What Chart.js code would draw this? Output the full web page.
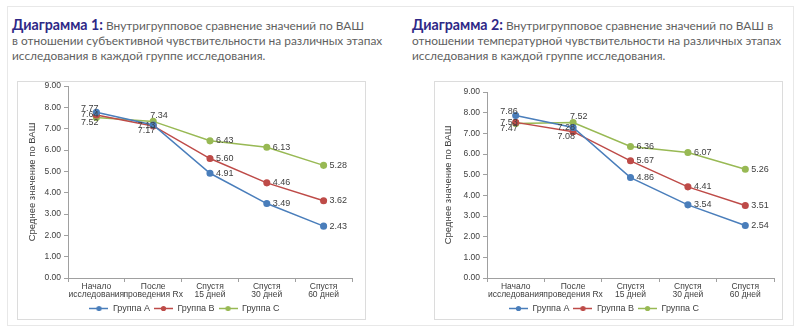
<!DOCTYPE html>
<html>
<head>
<meta charset="utf-8">
<script src="https://cdn.jsdelivr.net/npm/chart.js@4"></script>
<style>
  body { margin: 0; background: #fff; width: 800px; height: 332px; position: relative; overflow: hidden; }
  .frame { position: absolute; left: 7px; top: 6px; width: 785px; height: 318px; border: 1px solid #e8e8e8; }
  .title { position: absolute; top: 17px; font-family: Lato, "Open Sans", sans-serif; font-size: 11.9px; line-height: 15px; color: #5f5f5f; white-space: nowrap; }
  .title b { color: #2e2886; font-size: 14.2px; font-weight: 700; }
  .box { position: absolute; top: 81px; width: 347px; height: 237px; border: 1px solid #dcdcdc; }
  canvas { position: absolute; top: 81px; }
</style>
</head>
<body>
<div class="frame"></div>
<div class="title" style="left:12px">
  <b>Диаграмма 1:</b> Внутригрупповое сравнение значений по ВАШ<br>
  в отношении субъективной чувствительности на различных этапах<br>
  исследования в каждой группе исследования.
</div>
<div class="title" style="left:412px">
  <b>Диаграмма 2:</b> Внутригрупповое сравнение значений по ВАШ в<br>
  отношении температурной чувствительности на различных этапах<br>
  исследования в каждой группе исследования.
</div>
<div class="box" style="left:17px"></div>
<div class="box" style="left:434px"></div>
<canvas id="chart1" width="348" height="238" style="left:17px"></canvas>
<canvas id="chart2" width="349" height="238" style="left:434px"></canvas>

<script>
// data
const categories = [
  ["Начало", "исследования"],
  ["После", "проведения Rx"],
  ["Спустя", "15 дней"],
  ["Спустя", "30 дней"],
  ["Спустя", "60 дней"],
];
const seriesNames = ["Группа А", "Группа В", "Группа С"];
const yTicks = [0, 1, 2, 3, 4, 5, 6, 7, 8, 9];

const groupA1 = [7.77, 7.17, 4.91, 3.49, 2.43];
const groupB1 = [7.64, 7.13, 5.60, 4.46, 3.62];
const groupC1 = [7.52, 7.34, 6.43, 6.13, 5.28];

const groupA2 = [7.86, 7.28, 4.86, 3.54, 2.54];
const groupB2 = [7.53, 7.08, 5.67, 4.41, 3.51];
const groupC2 = [7.47, 7.52, 6.36, 6.07, 5.26];

// where each value label sits relative to its point
const labelPos1 = [
  ["la", "lb", "r", "r", "r"],
  ["l", "l", "r", "r", "r"],
  ["lb", "a", "r", "r", "r"],
];
const labelPos2 = [
  ["la", "l", "r", "r", "r"],
  ["l", "lb", "r", "r", "r"],
  ["lb", "a", "r", "r", "r"],
];

const colors = ["#4a7ebb", "#be4b48", "#98b954"];
const axisFont = { family: "'Liberation Sans', Arial, sans-serif", size: 9 };
const tickFont = { family: "'Liberation Sans', Arial, sans-serif", size: 8.5 };

// legend marker: line with a dot
const legendIcons = colors.map((c) => {
  const cv = document.createElement("canvas");
  cv.width = 19;
  cv.height = 7;
  const ctx = cv.getContext("2d");
  ctx.strokeStyle = c;
  ctx.lineWidth = 1.5;
  ctx.beginPath();
  ctx.moveTo(0, 3.5);
  ctx.lineTo(19, 3.5);
  ctx.stroke();
  ctx.fillStyle = c;
  ctx.beginPath();
  ctx.arc(9.5, 3.5, 2.6, 0, Math.PI * 2);
  ctx.fill();
  return cv;
});

const valueLabels = {
  id: "valueLabels",
  afterDatasetsDraw(chart, args, opts) {
    const ctx = chart.ctx;
    ctx.save();
    ctx.font = "9px 'Liberation Sans', Arial, sans-serif";
    ctx.fillStyle = "#404040";
    ctx.textBaseline = "middle";
    chart.data.datasets.forEach((ds, i) => {
      chart.getDatasetMeta(i).data.forEach((pt, j) => {
        const txt = ds.data[j].toFixed(2);
        const pos = opts.pos[i][j];
        let x = pt.x, y = pt.y;
        if (pos === "r") { ctx.textAlign = "left"; x += 6; }
        else if (pos === "l") { ctx.textAlign = "right"; x += 2; }
        else if (pos === "la") { ctx.textAlign = "right"; x += 2; y -= 4; }
        else if (pos === "lb") { ctx.textAlign = "right"; x += 2; y += 5; }
        else if (pos === "a") { ctx.textAlign = "left"; x -= 3; y -= 6; }
        ctx.fillText(txt, x, y);
      });
    });
    ctx.restore();
  },
};

function makeChart(id, data, pos, yWidth, padTop, padRight, titlePad) {
  return new Chart(document.getElementById(id), {
    type: "line",
    data: {
      labels: categories,
      datasets: data.map((d, i) => ({
        label: seriesNames[i],
        data: d,
        borderColor: colors[i],
        backgroundColor: colors[i],
        borderWidth: 1.5,
        pointRadius: 2.8,
        pointHoverRadius: 2.8,
        tension: 0,
      })),
    },
    options: {
      responsive: false,
      devicePixelRatio: 1,
      animation: false,
      layout: { padding: { top: padTop, right: padRight, bottom: -4, left: 0 } },
      plugins: {
        tooltip: { enabled: false },
        valueLabels: { pos: pos },
        legend: {
          position: "bottom",
          labels: {
            usePointStyle: true,
            pointStyleWidth: 19,
            padding: 4,
            color: "#404040",
            font: axisFont,
            generateLabels: (chart) =>
              Chart.defaults.plugins.legend.labels.generateLabels(chart).map((l) => {
                l.pointStyle = legendIcons[l.datasetIndex];
                return l;
              }),
          },
        },
      },
      scales: {
        x: {
          offset: true,
          afterFit: (s) => { s.height = 22; },
          grid: { offset: true, drawOnChartArea: false, tickLength: 4, color: "#a0a0a0" },
          border: { color: "#a0a0a0" },
          ticks: { color: "#404040", font: { ...tickFont, lineHeight: 1 }, padding: 0, maxRotation: 0, autoSkip: false },
        },
        y: {
          min: 0,
          max: 9,
          afterFit: (s) => { s.width = yWidth; s.paddingTop = 0; s.paddingBottom = 0; },
          afterBuildTicks: (s) => { s.ticks = yTicks.map((v) => ({ value: v })); },
          grid: { drawOnChartArea: false, tickLength: 4, color: "#a0a0a0" },
          border: { color: "#a0a0a0" },
          ticks: { color: "#404040", font: tickFont, padding: 3, callback: (v) => v.toFixed(2) },
          title: {
            display: true,
            text: "Среднее значение по ВАШ",
            color: "#404040",
            font: { family: "'Liberation Sans', Arial, sans-serif", size: 9.5 },
            padding: { top: titlePad, bottom: 0 },
          },
        },
      },
    },
    plugins: [valueLabels],
  });
}

makeChart("chart1", [groupA1, groupB1, groupC1], labelPos1, 51, 5, 13, 10);
makeChart("chart2", [groupA2, groupB2, groupC2], labelPos2, 53, 11, 9, 9);
</script>
</body>
</html>
